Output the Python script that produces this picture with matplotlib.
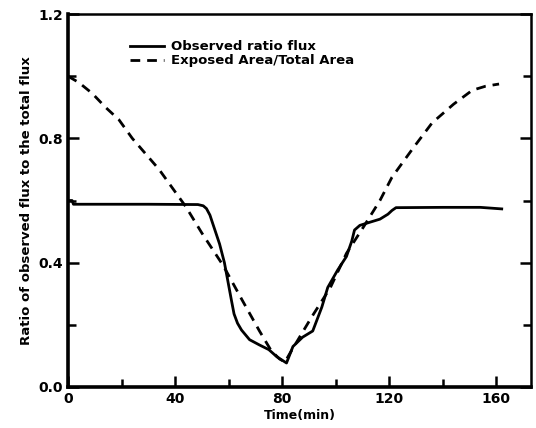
import matplotlib
matplotlib.use('Agg')
import matplotlib.pyplot as plt
from matplotlib.ticker import MultipleLocator

# Observed ratio flux (solid)
obs_t = [0, 1.5, 2, 10, 30, 48.5, 50.5, 51.7, 53, 54, 56.6, 58.4, 59.6, 61, 62, 63.3,
         64.8, 67.8, 71.5, 75, 78, 81.6, 84, 87.6, 91.4, 94.8, 97, 100.7, 104, 106,
         107, 109, 112.7, 116.5, 119.5, 121, 122.5, 140, 154, 162]
obs_r = [0.60, 0.60, 0.588, 0.588, 0.588, 0.587, 0.583, 0.574, 0.553, 0.527, 0.46,
         0.40, 0.345, 0.28, 0.235, 0.205, 0.183, 0.152, 0.135, 0.12, 0.097, 0.077,
         0.13, 0.16, 0.18, 0.257, 0.32, 0.376, 0.42, 0.47, 0.505, 0.52, 0.53, 0.54,
         0.556, 0.568, 0.577, 0.578, 0.578, 0.573]

# Exposed area / total area (dashed)
area_t = [0, 4, 9, 14, 19, 24, 29, 34, 39, 44, 50, 58, 65, 71.5, 76, 79, 81, 83, 91,
          98, 104, 110, 116.5, 121, 129, 136, 144, 151, 156, 161]
area_r = [1.0, 0.98, 0.945, 0.90, 0.86, 0.80, 0.75, 0.70, 0.64, 0.58, 0.495, 0.39, 0.28,
          0.18, 0.115, 0.09, 0.08, 0.11, 0.225, 0.32, 0.43, 0.51, 0.60, 0.675, 0.77,
          0.85, 0.91, 0.955, 0.968, 0.975]

x_ticks = [0, 40, 80, 120, 160]
y_ticks = [0.0, 0.4, 0.8, 1.2]

fig = plt.figure(figsize=(5.36, 4.28), dpi=100)
ax = fig.add_axes([0.127, 0.096, 0.864, 0.871])

ax.plot(obs_t, obs_r, color='black', lw=2.0, label='Observed ratio flux')
ax.plot(area_t, area_r, color='black', lw=2.0, linestyle=(0, (3.5, 2.5)),
        label='Exposed Area/Total Area')

ax.set_xlim(0, 173)
ax.set_ylim(0, 1.2)
ax.set_xticks(x_ticks)
ax.set_yticks(y_ticks)
ax.set_yticklabels(['%.1f' % v for v in y_ticks])
ax.xaxis.set_minor_locator(MultipleLocator(20))
ax.yaxis.set_minor_locator(MultipleLocator(0.2))
ax.tick_params(which='both', direction='in', width=1.8, labelsize=10, right=True)
ax.tick_params(which='major', length=8)
ax.tick_params(which='minor', length=6)
for lbl in ax.get_xticklabels() + ax.get_yticklabels():
    lbl.set_fontweight('bold')

for side in ['left', 'bottom']:
    ax.spines[side].set_linewidth(2.6)
for side in ['top', 'right']:
    ax.spines[side].set_linewidth(1.8)

ax.set_xlabel('Time(min)', fontsize=9, fontweight='bold', labelpad=2)
ax.set_ylabel('Ratio of observed flux to the total flux', fontsize=9.5,
              fontweight='bold', labelpad=4)

ax.legend(loc='upper left', bbox_to_anchor=(0.108, 0.962), frameon=False,
          handlelength=2.6, handletextpad=0.5, labelspacing=0.1,
          prop={'weight': 'bold', 'size': 9.5})

fig.savefig('out.png', dpi=100)
